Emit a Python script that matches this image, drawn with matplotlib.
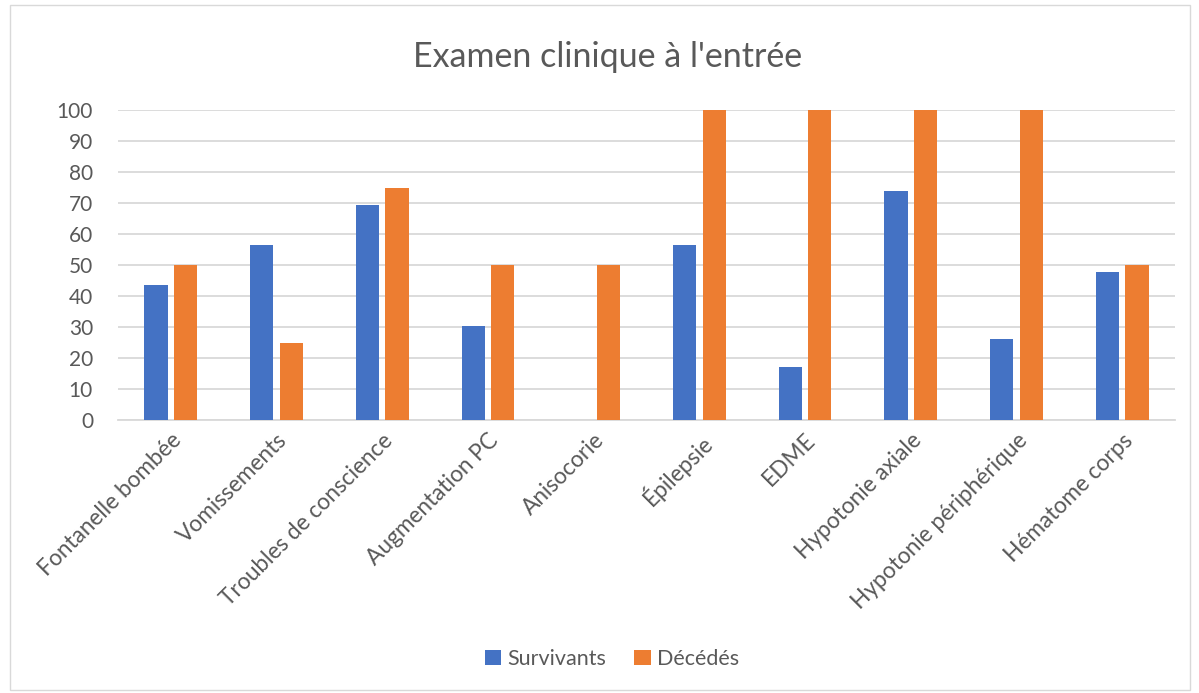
import matplotlib
matplotlib.use("Agg")
import matplotlib.pyplot as plt
import numpy as np
from matplotlib.patches import Rectangle

categories = ["Fontanelle bombée", "Vomissements", "Troubles de conscience",
              "Augmentation PC", "Anisocorie", "Épilepsie", "EDME",
              "Hypotonie axiale", "Hypotonie périphérique", "Hématome corps"]
survivants = [43.5, 56.3, 69.5, 30.4, 0, 56.3, 17.2, 73.9, 26.0, 47.7]
decedes = [50, 25, 75, 50, 50, 100, 100, 100, 100, 50]
yticks = list(range(0, 101, 10))

plt.rcParams['font.family'] = ['Lato', 'DejaVu Sans']
txt = '#595959'

fig = plt.figure(figsize=(11.99, 6.93), dpi=100)
ax = fig.add_axes([118/1199, 1-420/693, (1175-118)/1199, 310/693])

x = np.arange(len(categories))
w = 0.22
ax.bar(x - 0.14, survivants, w, color='#4472C4', label='Survivants', zorder=3)
ax.bar(x + 0.14, decedes, w, color='#ED7D31', label='Décédés', zorder=3)

ax.set_xlim(-0.5, len(categories) - 0.5)
ax.set_ylim(0, 100)
ax.set_yticks(yticks)
ax.set_yticklabels([str(t) for t in yticks], fontsize=15, color=txt)
ax.yaxis.grid(True, color='#D9D9D9', linewidth=1.3, zorder=0)
ax.tick_params(axis='both', length=0)
ax.tick_params(axis='y', pad=18)
ax.set_xticks(x)
ax.set_xticklabels(categories, rotation=45, ha='right', rotation_mode='anchor',
                   fontsize=16.3, color=txt)
ax.tick_params(axis='x', pad=7)
for s in ['top', 'right', 'left']:
    ax.spines[s].set_visible(False)
ax.spines['bottom'].set_color('#D9D9D9')
ax.spines['bottom'].set_linewidth(1.3)

fig.text(608/1199, 1-57/693, "Examen clinique à l'entrée", ha='center', va='center',
         fontsize=24.5, color=txt)

leg = fig.legend(loc='center', bbox_to_anchor=(612/1199, 1-659/693), ncol=2,
                 frameon=False, fontsize=15.5, handlelength=0.75, handleheight=0.75,
                 columnspacing=1.3, handletextpad=0.3)
for t in leg.get_texts():
    t.set_color(txt)

fig.patches.append(Rectangle((10/1199, 3/693), 1180/1199, 685/693, transform=fig.transFigure,
                             fill=False, edgecolor='#D9D9D9', linewidth=1))

fig.savefig('out.png', dpi=100)
